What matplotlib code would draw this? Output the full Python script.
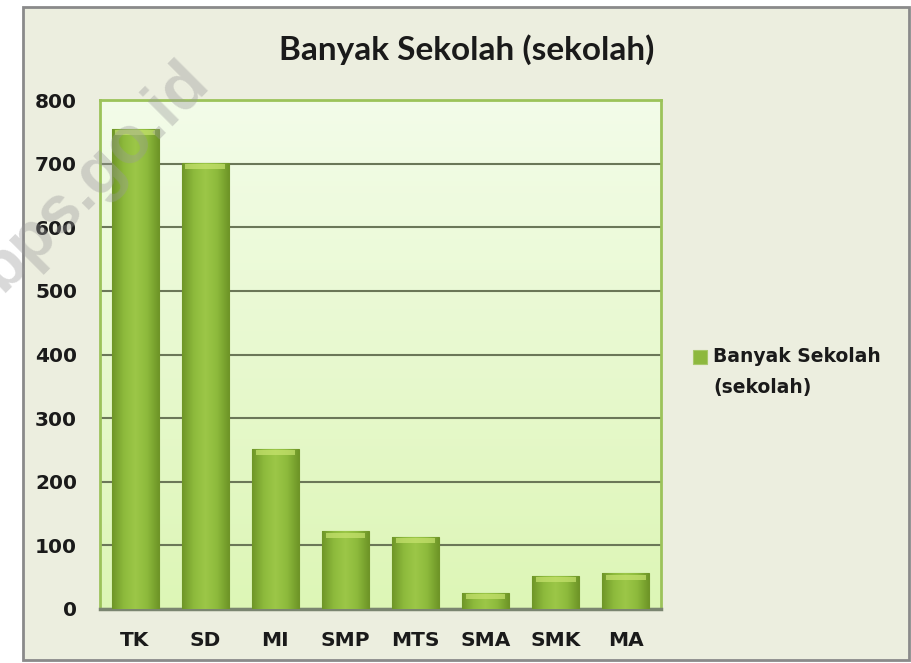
import matplotlib
matplotlib.use("Agg")
import matplotlib.pyplot as plt
import numpy as np
from matplotlib.patches import Rectangle
from matplotlib.colors import LinearSegmentedColormap

categories = ["TK", "SD", "MI", "SMP", "MTS", "SMA", "SMK", "MA"]
values = [755, 701, 252, 122, 113, 25, 52, 56]
yticks = [0, 100, 200, 300, 400, 500, 600, 700, 800]
series_name = "Banyak Sekolah (sekolah)"
watermark = "bps.go.id"

W, H = 911, 663
fig = plt.figure(figsize=(W / 100, H / 100), dpi=100)
fig.patch.set_facecolor("white")

def fx(px):
    return px / W

def fy(py):
    return 1 - py / H

# outer chart frame
frame = Rectangle((fx(23), fy(660)), fx(909) - fx(23), fy(7) - fy(660),
                  transform=fig.transFigure, facecolor="#ECEEDF",
                  edgecolor="#8a8a8a", linewidth=2.0, zorder=-5)
fig.patches.append(frame)

ax = fig.add_axes([fx(100), fy(609), fx(661) - fx(100), fy(100) - fy(609)])
ax.set_zorder(2)
ax.set_facecolor("none")

# plot area gradient background
bg_cmap = LinearSegmentedColormap.from_list("bg", ["#DDF6B6", "#F3FCE9"])
grad = np.linspace(0, 1, 256).reshape(-1, 1)
ax.imshow(grad, extent=[0, 1, 0, 1], transform=ax.transAxes, origin="lower",
          cmap=bg_cmap, aspect="auto", zorder=0)

x = np.arange(len(categories))
bars = ax.bar(x, values, width=0.67, color="#8DB83E", zorder=3,
              edgecolor="#6F9428", linewidth=0.8)

# bar gradient (darker edges, lighter center)
bar_cmap = LinearSegmentedColormap.from_list(
    "bar", ["#6E9527", "#8DBA3C", "#9CC748", "#8DBA3C", "#6E9527"])
hgrad = np.linspace(0, 1, 256).reshape(1, -1)
for b in bars:
    x0, y0 = b.get_x(), b.get_y()
    w, h = b.get_width(), b.get_height()
    im = ax.imshow(hgrad, extent=[x0, x0 + w, y0, y0 + h], cmap=bar_cmap,
                   aspect="auto", zorder=3.5, origin="lower")
    im.set_clip_path(b)
    # light bevel cap on top
    cap_h = 10
    cap = Rectangle((x0 + w * 0.08, y0 + h - cap_h), w * 0.84, cap_h * 0.8,
                    facecolor="#C8E470", edgecolor="none", alpha=0.7,
                    zorder=3.8)
    ax.add_patch(cap)

ax.set_xlim(-0.5, len(categories) - 0.5)
ax.set_ylim(0, 800)
ax.set_yticks(yticks)
ax.set_yticklabels([str(v) for v in yticks])
ax.set_xticks(x)
ax.set_xticklabels(categories)

ax.yaxis.grid(True, color="#6B7758", linewidth=1.5, zorder=1)
ax.set_axisbelow(True)

for s in ["top", "right", "left"]:
    ax.spines[s].set_color("#9CC35A")
    ax.spines[s].set_linewidth(2.0)
ax.spines["bottom"].set_color("#7A8570")
ax.spines["bottom"].set_linewidth(2.5)

ax.tick_params(axis="y", length=0, pad=16.5, labelsize=14.5, labelcolor="#1a1a1a")
ax.tick_params(axis="x", length=0, pad=16, labelsize=14.5, labelcolor="#1a1a1a")
for lbl in ax.get_yticklabels() + ax.get_xticklabels():
    lbl.set_fontfamily("DejaVu Sans")
    lbl.set_fontweight("bold")
for lbl in ax.get_yticklabels():
    lbl.set_horizontalalignment("right")

# title
fig.text(fx(467), fy(50), series_name, ha="center", va="center",
         fontsize=24, fontfamily="Lato", fontweight="bold", color="#1a1a1a")

# legend
name_main, name_unit = series_name.split(" (")
leg_box = Rectangle((fx(693), fy(364)), fx(707) - fx(693), fy(350) - fy(364),
                    transform=fig.transFigure, facecolor="#8DB83E",
                    edgecolor="#A7C86A", linewidth=0.8)
fig.patches.append(leg_box)
fig.text(fx(713), fy(356), name_main, ha="left", va="center", fontsize=13.5,
         fontfamily="DejaVu Sans", fontweight="bold", color="#1a1a1a")
fig.text(fx(713), fy(388), "(" + name_unit, ha="left", va="center", fontsize=13.5,
         fontfamily="DejaVu Sans", fontweight="bold", color="#1a1a1a")

# watermark
fig.text(fx(94), fy(176), watermark, ha="center", va="center", rotation=45,
         fontsize=48, fontfamily="Liberation Sans", fontweight="bold",
         color="#9a9a9a", alpha=0.38, zorder=10)

fig.savefig("out.png", dpi=100, facecolor=fig.get_facecolor())
